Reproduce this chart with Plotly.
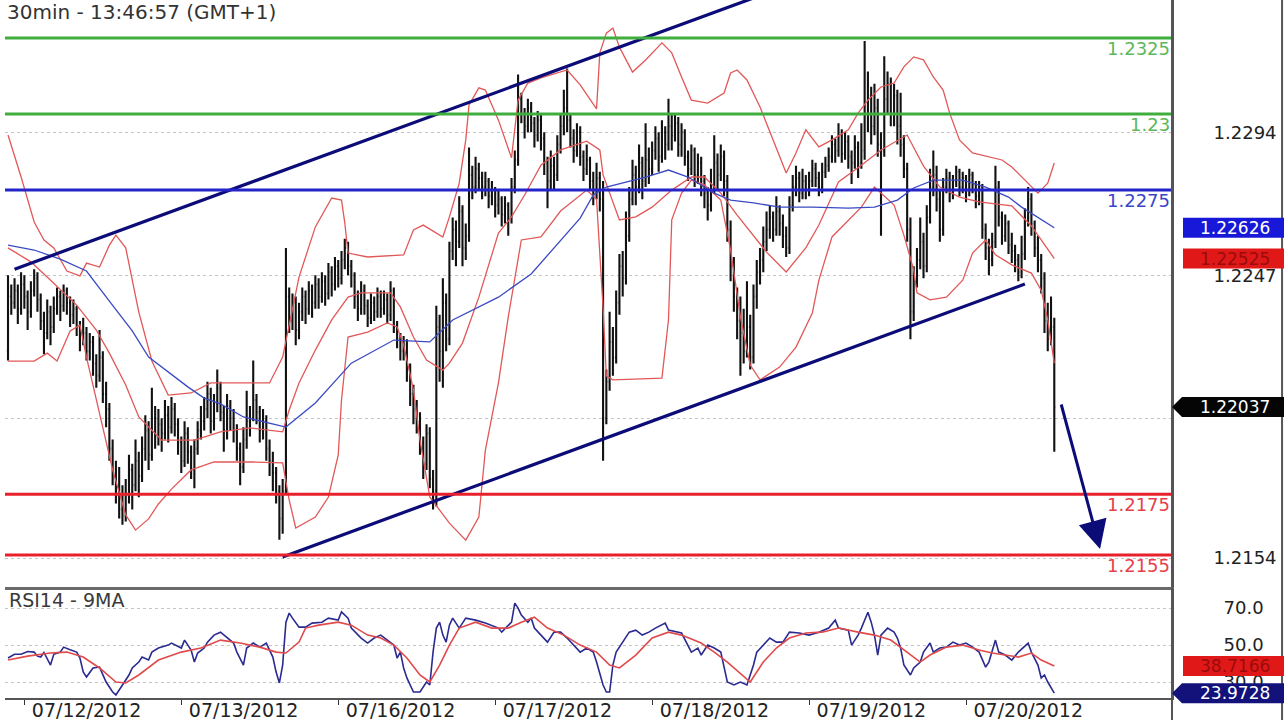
import plotly.graph_objects as go

# ---------------- data ----------------
title_text = "30min - 13:46:57 (GMT+1)"
rsi_title = "RSI14 - 9MA"
day_ticks = [5, 53, 101, 149, 197, 245, 293]
day_labels = ["07/12/2012", "07/13/2012", "07/16/2012", "07/17/2012",
              "07/18/2012", "07/19/2012", "07/20/2012"]

bar_open = [
 1.2222,1.2240,1.2238,1.2242,1.2236,1.2244,1.2240,1.2235,1.2242,1.2246,1.2239,1.2232,1.2228,1.2235,1.2230,1.2236,1.2240,1.2237,1.2242,1.2238,
 1.2234,1.2236,1.2230,1.2226,1.2228,1.2222,1.2225,1.2218,1.2214,1.2220,1.2208,1.2203,1.2190,1.2182,1.2176,1.2170,1.2168,1.2175,1.2183,1.2178,
 1.2186,1.2181,1.2190,1.2196,1.2188,1.2200,1.2194,1.2198,1.2195,1.2201,1.2197,1.2203,1.2198,1.2192,1.2186,1.2195,1.2189,1.2183,1.2190,1.2196,
 1.2199,1.2203,1.2208,1.2199,1.2205,1.2210,1.2202,1.2196,1.2204,1.2200,1.2196,1.2190,1.2184,1.2193,1.2199,1.2200,1.2206,1.2202,1.2196,1.2199,
 1.2190,1.2186,1.2182,1.2176,1.2167,1.2176,1.2240,1.2232,1.2238,1.2229,1.2235,1.2240,1.2236,1.2242,1.2238,1.2244,1.2240,1.2245,1.2241,1.2248,
 1.2244,1.2250,1.2246,1.2252,1.2256,1.2250,1.2247,1.2240,1.2236,1.2242,1.2237,1.2233,1.2238,1.2235,1.2240,1.2236,1.2239,1.2234,1.2242,1.2230,
 1.2226,1.2222,1.2224,1.2216,1.2208,1.2203,1.2199,1.2192,1.2185,1.2195,1.2180,1.2176,1.2230,1.2222,1.2238,1.2226,1.2255,1.2262,1.2258,1.2268,
 1.2256,1.2260,1.2280,1.2276,1.2282,1.2279,1.2276,1.2278,1.2273,1.2275,1.2270,1.2272,1.2267,1.2270,1.2266,1.2276,1.2285,1.2305,1.2300,1.2296,
 1.2302,1.2297,1.2293,1.2298,1.2292,1.2284,1.2278,1.2283,1.2280,1.2290,1.2296,1.2302,1.2298,1.2292,1.2288,1.2294,1.2286,1.2282,1.2285,1.2278,
 1.2274,1.2279,1.2272,1.2200,1.2212,1.2225,1.2220,1.2238,1.2250,1.2246,1.2260,1.2272,1.2280,1.2276,1.2284,1.2278,1.2285,1.2282,1.2288,1.2292,
 1.2286,1.2294,1.2290,1.2296,1.2293,1.2297,1.2290,1.2294,1.2286,1.2282,1.2288,1.2280,1.2284,1.2278,1.2274,1.2270,1.2276,1.2284,1.2280,1.2286,
 1.2278,1.2262,1.2250,1.2240,1.2232,1.2228,1.2222,1.2230,1.2220,1.2240,1.2248,1.2252,1.2258,1.2262,1.2266,1.2262,1.2268,1.2264,1.2260,1.2256,
 1.2270,1.2276,1.2279,1.2274,1.2278,1.2275,1.2278,1.2282,1.2279,1.2276,1.2281,1.2283,1.2286,1.2290,1.2288,1.2293,1.2287,1.2291,1.2286,1.2284,
 1.2289,1.2284,1.2288,1.2300,1.2306,1.2296,1.2302,1.2290,1.2288,1.2305,1.2310,1.2300,1.2306,1.2296,1.2290,1.2282,1.2262,1.2235,1.2245,1.2252,
 1.2258,1.2250,1.2266,1.2276,1.2280,1.2272,1.2262,1.2276,1.2279,1.2274,1.2278,1.2281,1.2276,1.2279,1.2275,1.2280,1.2277,1.2273,1.2276,1.2262,
 1.2256,1.2252,1.2258,1.2276,1.2266,1.2260,1.2264,1.2257,1.2255,1.2252,1.2248,1.2254,1.2266,1.2272,1.2264,1.2256,1.2252,1.2246,1.2232,1.2226,1.2230]

bar_high = [
 1.2247,1.2244,1.2246,1.2244,1.2248,1.2247,1.2242,1.2245,1.2249,1.2248,1.2241,1.2235,1.2239,1.2237,1.2240,1.2243,1.2242,1.2244,1.2243,1.2240,
 1.2239,1.2237,1.2232,1.2233,1.2230,1.2228,1.2227,1.2221,1.2229,1.2222,1.2212,1.2205,1.2193,1.2186,1.2184,1.2178,1.2180,1.2188,1.2185,1.2193,
 1.2189,1.2194,1.2201,1.2199,1.2210,1.2204,1.2203,1.2200,1.2206,1.2204,1.2207,1.2205,1.2200,1.2194,1.2199,1.2197,1.2191,1.2193,1.2199,1.2204,
 1.2207,1.2212,1.2210,1.2208,1.2216,1.2212,1.2204,1.2208,1.2206,1.2203,1.2198,1.2192,1.2197,1.2209,1.2204,1.2219,1.2208,1.2204,1.2203,1.2201,
 1.2193,1.2189,1.2184,1.2178,1.2180,1.2256,1.2243,1.2241,1.2240,1.2238,1.2243,1.2242,1.2245,1.2244,1.2247,1.2246,1.2248,1.2247,1.2251,1.2250,
 1.2253,1.2252,1.2255,1.2259,1.2258,1.2252,1.2248,1.2242,1.2245,1.2244,1.2239,1.2241,1.2240,1.2243,1.2242,1.2242,1.2241,1.2245,1.2243,1.2232,
 1.2228,1.2227,1.2226,1.2218,1.2211,1.2206,1.2202,1.2194,1.2198,1.2197,1.2183,1.2237,1.2234,1.2246,1.2241,1.2258,1.2266,1.2265,1.2273,1.2270,
 1.2264,1.2289,1.2283,1.2286,1.2284,1.2281,1.2281,1.2279,1.2278,1.2276,1.2275,1.2273,1.2273,1.2271,1.2279,1.2288,1.2313,1.2307,1.2302,1.2305,
 1.2304,1.2299,1.2301,1.2300,1.2294,1.2286,1.2288,1.2286,1.2293,1.2300,1.2308,1.2315,1.2300,1.2295,1.2297,1.2296,1.2288,1.2290,1.2286,1.2281,
 1.2284,1.2281,1.2278,1.2216,1.2235,1.2230,1.2242,1.2254,1.2255,1.2268,1.2276,1.2285,1.2283,1.2290,1.2286,1.2297,1.2289,1.2291,1.2296,1.2294,
 1.2298,1.2296,1.2305,1.2300,1.2300,1.2299,1.2297,1.2295,1.2288,1.2290,1.2289,1.2287,1.2286,1.2280,1.2276,1.2282,1.2293,1.2287,1.2290,1.2288,
 1.2280,1.2265,1.2253,1.2243,1.2240,1.2236,1.2245,1.2234,1.2244,1.2252,1.2256,1.2263,1.2268,1.2270,1.2268,1.2273,1.2270,1.2267,1.2263,1.2273,
 1.2280,1.2283,1.2281,1.2282,1.2280,1.2281,1.2285,1.2284,1.2281,1.2284,1.2286,1.2289,1.2293,1.2292,1.2297,1.2295,1.2294,1.2293,1.2288,1.2293,
 1.2291,1.2297,1.2324,1.2314,1.2309,1.2310,1.2305,1.2294,1.2319,1.2314,1.2312,1.2310,1.2308,1.2307,1.2293,1.2284,1.2266,1.2250,1.2256,1.2266,
 1.2261,1.2270,1.2282,1.2288,1.2283,1.2275,1.2279,1.2282,1.2281,1.2280,1.2283,1.2282,1.2281,1.2280,1.2282,1.2281,1.2278,1.2278,1.2277,1.2264,
 1.2259,1.2261,1.2283,1.2278,1.2268,1.2267,1.2265,1.2261,1.2257,1.2254,1.2260,1.2269,1.2276,1.2274,1.2265,1.2260,1.2254,1.2248,1.2238,1.2240,1.2233]

bar_low = [
 1.2219,1.2234,1.2236,1.2231,1.2234,1.2236,1.2229,1.2233,1.2240,1.2235,1.2229,1.2221,1.2226,1.2224,1.2228,1.2234,1.2232,1.2235,1.2234,1.2230,
 1.2231,1.2227,1.2222,1.2224,1.2219,1.2219,1.2214,1.2210,1.2212,1.2205,1.2197,1.2186,1.2178,1.2172,1.2167,1.2165,1.2166,1.2172,1.2170,1.2176,
 1.2174,1.2179,1.2186,1.2183,1.2186,1.2190,1.2191,1.2189,1.2193,1.2192,1.2195,1.2194,1.2188,1.2182,1.2184,1.2185,1.2180,1.2177,1.2188,1.2193,
 1.2196,1.2200,1.2195,1.2196,1.2202,1.2199,1.2189,1.2193,1.2196,1.2192,1.2186,1.2178,1.2182,1.2190,1.2194,1.2199,1.2198,1.2192,1.2193,1.2186,
 1.2181,1.2176,1.2172,1.2160,1.2162,1.2175,1.2228,1.2229,1.2224,1.2226,1.2232,1.2231,1.2234,1.2233,1.2236,1.2236,1.2238,1.2237,1.2239,1.2240,
 1.2242,1.2243,1.2244,1.2249,1.2247,1.2243,1.2236,1.2232,1.2234,1.2234,1.2230,1.2231,1.2232,1.2233,1.2233,1.2234,1.2231,1.2232,1.2228,1.2223,
 1.2219,1.2219,1.2212,1.2204,1.2198,1.2195,1.2188,1.2180,1.2183,1.2177,1.2170,1.2171,1.2212,1.2210,1.2222,1.2224,1.2252,1.2250,1.2256,1.2250,
 1.2252,1.2258,1.2272,1.2274,1.2275,1.2272,1.2273,1.2269,1.2270,1.2266,1.2267,1.2263,1.2264,1.2260,1.2264,1.2274,1.2283,1.2297,1.2292,1.2294,
 1.2294,1.2289,1.2291,1.2288,1.2280,1.2269,1.2275,1.2275,1.2278,1.2287,1.2293,1.2294,1.2289,1.2284,1.2286,1.2283,1.2278,1.2280,1.2275,1.2270,
 1.2272,1.2268,1.2186,1.2198,1.2209,1.2214,1.2218,1.2234,1.2240,1.2244,1.2258,1.2270,1.2270,1.2274,1.2272,1.2276,1.2277,1.2280,1.2285,1.2281,
 1.2284,1.2285,1.2288,1.2288,1.2291,1.2286,1.2286,1.2283,1.2278,1.2280,1.2276,1.2277,1.2273,1.2269,1.2265,1.2268,1.2274,1.2275,1.2278,1.2273,
 1.2258,1.2245,1.2235,1.2226,1.2214,1.2218,1.2220,1.2216,1.2218,1.2236,1.2244,1.2248,1.2255,1.2259,1.2258,1.2260,1.2260,1.2256,1.2253,1.2254,
 1.2268,1.2273,1.2271,1.2272,1.2272,1.2273,1.2276,1.2276,1.2273,1.2274,1.2279,1.2281,1.2284,1.2284,1.2286,1.2284,1.2285,1.2282,1.2277,1.2282,
 1.2279,1.2282,1.2285,1.2294,1.2290,1.2293,1.2286,1.2260,1.2286,1.2300,1.2296,1.2296,1.2290,1.2286,1.2279,1.2258,1.2226,1.2232,1.2243,1.2249,
 1.2246,1.2248,1.2264,1.2273,1.2268,1.2258,1.2260,1.2274,1.2271,1.2272,1.2276,1.2273,1.2274,1.2271,1.2273,1.2274,1.2269,1.2270,1.2259,1.2252,
 1.2247,1.2250,1.2256,1.2263,1.2257,1.2258,1.2254,1.2251,1.2248,1.2245,1.2246,1.2252,1.2263,1.2260,1.2253,1.2248,1.2241,1.2228,1.2222,1.2224,1.2189]

bar_close = [
 1.2240,1.2238,1.2242,1.2236,1.2244,1.2240,1.2235,1.2242,1.2246,1.2239,1.2232,1.2228,1.2235,1.2230,1.2236,1.2240,1.2237,1.2242,1.2238,1.2234,
 1.2236,1.2230,1.2226,1.2228,1.2222,1.2225,1.2218,1.2214,1.2220,1.2208,1.2203,1.2190,1.2182,1.2176,1.2170,1.2168,1.2175,1.2183,1.2178,1.2186,
 1.2181,1.2190,1.2196,1.2188,1.2200,1.2194,1.2198,1.2195,1.2201,1.2197,1.2203,1.2198,1.2192,1.2186,1.2195,1.2189,1.2183,1.2190,1.2196,1.2199,
 1.2203,1.2208,1.2199,1.2205,1.2210,1.2202,1.2196,1.2204,1.2200,1.2196,1.2190,1.2184,1.2193,1.2199,1.2200,1.2206,1.2202,1.2196,1.2199,1.2190,
 1.2186,1.2182,1.2176,1.2167,1.2176,1.2240,1.2232,1.2238,1.2229,1.2235,1.2240,1.2236,1.2242,1.2238,1.2244,1.2240,1.2245,1.2241,1.2248,1.2244,
 1.2250,1.2246,1.2252,1.2256,1.2250,1.2247,1.2240,1.2236,1.2242,1.2237,1.2233,1.2238,1.2235,1.2240,1.2236,1.2239,1.2234,1.2242,1.2230,1.2226,
 1.2222,1.2224,1.2216,1.2208,1.2203,1.2199,1.2192,1.2185,1.2195,1.2180,1.2176,1.2230,1.2222,1.2238,1.2226,1.2255,1.2262,1.2258,1.2268,1.2256,
 1.2260,1.2280,1.2276,1.2282,1.2279,1.2276,1.2278,1.2273,1.2275,1.2270,1.2272,1.2267,1.2270,1.2266,1.2276,1.2285,1.2305,1.2300,1.2296,1.2302,
 1.2297,1.2293,1.2298,1.2292,1.2284,1.2278,1.2283,1.2280,1.2290,1.2296,1.2302,1.2298,1.2292,1.2288,1.2294,1.2286,1.2282,1.2285,1.2278,1.2274,
 1.2279,1.2272,1.2200,1.2212,1.2225,1.2220,1.2238,1.2250,1.2246,1.2260,1.2272,1.2280,1.2276,1.2284,1.2278,1.2285,1.2282,1.2288,1.2292,1.2286,
 1.2294,1.2290,1.2296,1.2293,1.2297,1.2290,1.2294,1.2286,1.2282,1.2288,1.2280,1.2284,1.2278,1.2274,1.2270,1.2276,1.2284,1.2280,1.2286,1.2278,
 1.2262,1.2250,1.2240,1.2232,1.2228,1.2222,1.2230,1.2220,1.2240,1.2248,1.2252,1.2258,1.2262,1.2266,1.2262,1.2268,1.2264,1.2260,1.2256,1.2270,
 1.2276,1.2279,1.2274,1.2278,1.2275,1.2278,1.2282,1.2279,1.2276,1.2281,1.2283,1.2286,1.2290,1.2288,1.2293,1.2287,1.2291,1.2286,1.2284,1.2289,
 1.2284,1.2288,1.2300,1.2306,1.2296,1.2302,1.2290,1.2288,1.2305,1.2310,1.2300,1.2306,1.2296,1.2290,1.2282,1.2262,1.2235,1.2245,1.2252,1.2258,
 1.2250,1.2266,1.2276,1.2280,1.2272,1.2262,1.2276,1.2279,1.2274,1.2278,1.2281,1.2276,1.2279,1.2275,1.2280,1.2277,1.2273,1.2276,1.2262,1.2256,
 1.2252,1.2258,1.2276,1.2266,1.2260,1.2264,1.2257,1.2255,1.2252,1.2248,1.2254,1.2266,1.2272,1.2264,1.2256,1.2252,1.2246,1.2232,1.2226,1.2230,1.22037]

bar_index = list(range(len(bar_close)))

# Bollinger bands (20,2) at sample bars
bb_upper_bar = [0,4,8,11,14,18,22,24,28,31,33,36,40,44,49,56,62,80,84,89,94,99,102,103,104,110,121,124,127,133,
                135,138,140,141,144,146,150,153,154,156,159,163,171,175,180,181,183,185,187,191,195,200,203,206,209,214,219,221,223,226,
                230,234,238,241,244,248,252,257,260,263,267,271,274,277,280,283,286,288,291,295,300,304,307,312,315,318,320]
bb_upper = [1.22931,1.22793,1.22645,1.22586,1.22560,1.22484,1.22468,1.22510,1.22497,1.22569,1.22602,1.22560,1.22349,1.22188,1.22076,1.22083,1.22116,1.22116,1.22201,1.22464,
            1.22629,1.22724,1.22717,1.22642,1.22543,1.22530,1.22537,1.22619,1.22635,1.22596,1.22662,1.22773,1.22915,1.23030,1.23086,1.23079,1.22980,1.22882,1.22856,1.23046,
            1.23102,1.23119,1.23145,1.23096,1.23017,1.23201,1.23266,1.23283,1.23220,1.23138,1.23178,1.23234,1.23201,1.23122,1.23046,1.23036,1.23069,1.23135,1.23145,1.23112,
            1.23023,1.22915,1.22806,1.22872,1.22948,1.22892,1.22915,1.22948,1.23003,1.23046,1.23089,1.23102,1.23155,1.23188,1.23178,1.23122,1.23079,1.23003,1.22915,1.22872,
            1.22859,1.22849,1.22826,1.22773,1.22740,1.22773,1.22839]
bb_mid_bar = [0,7,14,21,27,31,36,40,47,57,65,74,84,86,89,94,99,104,108,117,120,124,128,133,135,139,144,150,154,158,
              163,169,177,181,182,187,192,197,203,209,213,218,223,228,232,238,244,248,254,261,267,275,280,285,291,297,307,313,320]
bb_mid = [1.22560,1.22514,1.22444,1.22372,1.22290,1.22214,1.22109,1.22004,1.21928,1.21928,1.21955,1.21968,1.21955,1.22027,1.22116,1.22224,1.22323,1.22398,1.22412,1.22412,
          1.22366,1.22267,1.22191,1.22158,1.22181,1.22247,1.22398,1.22609,1.22662,1.22734,1.22832,1.22882,1.22911,1.22882,1.22800,1.22652,1.22662,1.22694,1.22750,1.22793,
          1.22793,1.22740,1.22668,1.22599,1.22546,1.22481,1.22560,1.22635,1.22777,1.22832,1.22882,1.22931,1.22829,1.22760,1.22727,1.22711,1.22698,1.22632,1.22525]
bb_lower_bar = [0,8,12,15,19,22,24,28,32,36,39,43,46,50,56,63,75,84,86,88,94,98,101,102,104,110,116,119,121,124,
                126,129,135,140,144,146,150,153,157,163,169,177,180,182,183,185,200,202,203,206,209,213,218,221,224,227,230,236,241,246,
                248,252,257,261,265,271,274,277,278,282,287,292,295,299,302,307,313,316,318,320]
bb_lower = [1.22188,1.22188,1.22214,1.22188,1.22287,1.22306,1.22201,1.22017,1.21830,1.21682,1.21632,1.21669,1.21718,1.21767,1.21830,1.21856,1.21856,1.21853,1.21731,1.21639,
            1.21675,1.21741,1.21879,1.22060,1.22267,1.22283,1.22313,1.22300,1.22241,1.22093,1.21928,1.21741,1.21655,1.21599,1.21675,1.21895,1.22116,1.22333,1.22586,1.22596,
            1.22681,1.22750,1.22720,1.22362,1.22139,1.22126,1.22132,1.22323,1.22652,1.22740,1.22783,1.22767,1.22717,1.22553,1.22333,1.22175,1.22126,1.22168,1.22234,1.22346,
            1.22454,1.22596,1.22652,1.22694,1.22760,1.22701,1.22602,1.22487,1.22412,1.22389,1.22398,1.22454,1.22543,1.22586,1.22537,1.22504,1.22477,1.22421,1.22323,1.22181]
ma50_bar = [0,8,16,24,31,38,43,49,55,60,65,72,82,85,94,105,118,129,136,150,160,169,175,179,183,195,202,208,216,221,
            228,236,246,257,265,272,277,283,292,299,306,310,316,320]
ma50 = [1.22569,1.22553,1.22523,1.22484,1.22385,1.22287,1.22201,1.22152,1.22103,1.22066,1.22047,1.22004,1.21978,1.21971,1.22050,1.22181,1.22257,1.22251,1.22323,1.22398,
        1.22474,1.22583,1.22658,1.22734,1.22760,1.22793,1.22816,1.22793,1.22740,1.22717,1.22708,1.22694,1.22694,1.22691,1.22694,1.22717,1.22757,1.22783,1.22783,1.22760,
        1.22727,1.22694,1.22652,1.22626]

# RSI(14) and its 9-period MA
rsi_bar = [0,2,4,6,8,9,10,11,13,14,16,17,19,21,22,23,24,26,28,30,32,33,35,37,38,40,41,43,44,46,
           49,50,53,54,56,57,58,60,61,63,65,67,69,70,72,73,75,77,79,81,82,83,84,85,86,87,89,91,93,96,
           98,101,102,104,105,108,110,112,114,116,118,119,120,121,122,124,126,128,129,130,131,132,133,134,135,136,138,140,143,146,
           150,151,154,155,156,157,159,160,161,163,165,167,169,171,173,175,177,179,180,182,183,184,185,186,188,190,192,194,196,198,
           201,202,206,208,209,211,212,214,216,218,219,220,222,224,226,228,229,231,233,235,237,239,242,245,248,251,253,254,257,258,
           260,261,263,264,265,266,267,269,271,272,273,274,276,277,279,280,282,283,285,287,289,291,293,295,297,299,300,302,303,305,
           307,309,312,313,315,316,317,318,319,320]
rsi = [43.0,45.0,45.0,46.5,46.2,44.0,43.5,46.0,39.2,45.0,46.2,48.9,47.5,46.2,43.0,35.4,32.7,37.6,38.1,30.0,
       24.6,23.0,28.4,33.8,37.6,40.8,43.5,41.9,46.2,48.4,50.0,51.1,48.4,52.7,47.3,40.8,45.7,48.4,51.6,55.4,
       57.0,53.8,51.1,46.2,39.2,48.4,51.1,48.9,51.1,43.5,35.4,29.5,39.2,62.4,67.3,64.6,59.7,59.7,61.9,62.4,
       64.6,63.5,68.0,64.6,59.2,53.8,51.1,53.8,55.4,52.7,50.0,43.0,46.2,37.6,32.2,24.6,24.6,30.0,28.4,46.2,
       59.2,62.4,55.4,51.6,60.8,64.6,59.2,64.6,63.5,61.9,59.2,57.0,62.4,72.7,70.0,66.2,62.4,64.6,59.2,55.4,
       51.6,57.0,57.0,53.8,50.0,46.2,48.4,46.2,40.8,28.4,24.6,24.6,39.2,46.2,51.6,57.0,58.1,55.4,57.0,59.2,
       61.9,58.1,56.5,50.0,46.2,48.4,44.6,50.0,48.4,46.2,37.6,30.0,28.4,30.0,28.4,39.2,46.2,50.0,53.8,51.6,
       51.6,57.0,56.5,55.4,57.0,59.2,63.5,59.2,58.1,50.0,55.4,59.2,67.8,62.4,55.4,44.6,55.4,59.2,57.0,53.8,
       48.4,39.2,33.8,37.6,40.8,46.2,51.1,46.2,48.4,48.9,51.6,50.0,51.1,48.9,46.2,38.1,40.8,52.7,46.2,44.6,
       41.9,46.2,51.1,46.2,39.2,32.2,33.8,30.0,27.0,23.9728]
rsi_ma_bar = [0,6,13,18,23,28,33,36,40,46,53,59,65,71,77,82,85,89,91,95,101,105,110,114,118,122,126,129,132,135,
              138,143,148,153,157,161,165,170,175,180,184,187,192,197,202,206,212,216,220,224,227,231,235,239,244,249,254,260,265,270,
              275,279,282,287,292,297,301,305,309,313,316,320]
rsi_ma = [41.9,44.0,45.7,46.2,43.5,37.6,30.0,29.5,33.8,41.9,46.2,48.4,52.7,51.1,48.9,46.2,45.7,51.6,59.2,60.8,
          62.4,60.8,55.4,53.8,50.0,43.0,33.8,30.0,39.2,50.0,59.2,62.4,59.2,59.2,62.4,65.1,59.2,55.4,50.0,46.2,
          39.2,37.6,44.6,53.8,57.0,55.4,51.1,46.2,40.8,34.9,30.0,40.8,48.4,53.8,56.5,57.0,59.2,57.0,55.4,52.7,
          46.2,40.8,44.6,48.9,50.0,47.3,45.7,44.6,43.5,45.7,41.9,38.7166]

# drawn levels / trendlines / projection arrow
level_values = [1.2325, 1.2300, 1.2275, 1.2175, 1.2155]
level_labels = ["1.2325", "1.23", "1.2275", "1.2175", "1.2155"]
channel_upper_bar = [2, 240]
channel_upper = [1.22490, 1.23429]
channel_lower_bar = [84, 311]
channel_lower = [1.21544, 1.22441]
arrow_from = (322, 1.2205)
arrow_to = (334, 1.2157)

price_ticks = [1.2154, 1.2200, 1.2247, 1.2294]
price_tick_text = ["1.2154", "", "1.2247", "1.2294"]
rsi_ticks = [30, 50, 70]
rsi_tick_text = ["30.0", "50.0", "70.0"]

ma50_last = 1.22626
bb_mid_last = 1.22525
last_price = 1.22037
rsi_ma_last = 38.7166
rsi_last = 23.9728

# ---------------- styling ----------------
FONT = "DejaVu Sans"
X_RANGE = [-0.92, 356]
Y_RANGE = [1.21445, 1.23375]
Y_DOM = [0.159, 1.0]
R_RANGE = [21.35, 80.3]
R_DOM = [0.0, 0.156]
GREEN, BLUE, RED, NAVY = "#3fae3f", "#2424c8", "#e8202c", "#0c0c78"
LEVEL_COLORS = [GREEN, GREEN, BLUE, RED, RED]
LABEL_COLORS = ["#5cb85c", "#5cb85c", "#3a46c8", "#e8404a", "#e8404a"]
BAND = "#e25858"

fig = go.Figure()

fig.add_trace(go.Ohlc(
    x=bar_index, open=bar_open, high=bar_high, low=bar_low, close=bar_close,
    increasing=dict(line=dict(color="#111111", width=2.1)),
    decreasing=dict(line=dict(color="#111111", width=2.1)),
    tickwidth=0.35, hoverinfo="skip", showlegend=False, xaxis="x", yaxis="y"))

for xs, ys, col in [(bb_upper_bar, bb_upper, BAND), (bb_mid_bar, bb_mid, BAND),
                    (bb_lower_bar, bb_lower, BAND), (ma50_bar, ma50, "#3a4ac4")]:
    fig.add_trace(go.Scatter(x=xs, y=ys, mode="lines", line=dict(color=col, width=1.3),
                             hoverinfo="skip", showlegend=False, xaxis="x", yaxis="y"))

for xs, ys in [(channel_upper_bar, channel_upper), (channel_lower_bar, channel_lower)]:
    fig.add_trace(go.Scatter(x=xs, y=ys, mode="lines", line=dict(color=NAVY, width=3.2),
                             hoverinfo="skip", showlegend=False, xaxis="x", yaxis="y"))

fig.add_trace(go.Scatter(x=rsi_bar, y=rsi, mode="lines", line=dict(color="#2a2a90", width=1.6),
                         hoverinfo="skip", showlegend=False, xaxis="x2", yaxis="y2"))
fig.add_trace(go.Scatter(x=rsi_ma_bar, y=rsi_ma, mode="lines", line=dict(color="#e04a4a", width=1.6),
                         hoverinfo="skip", showlegend=False, xaxis="x2", yaxis="y2"))

shapes = []
for v, c in zip(level_values, LEVEL_COLORS):
    shapes.append(dict(type="line", xref="x domain", yref="y", x0=0, x1=1, y0=v, y1=v,
                       line=dict(color=c, width=3), layer="above"))

# frame lines outside the plot areas
shapes.append(dict(type="line", xref="paper", yref="paper", x0=1, x1=1, y0=-0.04, y1=1.0,
                   line=dict(color="#555555", width=2)))
shapes.append(dict(type="line", xref="paper", yref="paper", x0=1.0943, x1=1.0943, y0=-0.04, y1=1.0,
                   line=dict(color="#555555", width=2)))


def paper_y(v, rng, dom):
    return dom[0] + (v - rng[0]) / (rng[1] - rng[0]) * (dom[1] - dom[0])


annotations = []
markers = [
    (ma50_last, Y_RANGE, Y_DOM, "#1818d8", "white", f"{ma50_last:.5f}", False),
    (bb_mid_last, Y_RANGE, Y_DOM, "#e01818", "#9a0c0c", f"{bb_mid_last:.5f}", False),
    (last_price, Y_RANGE, Y_DOM, "#050505", "white", f"{last_price:.5f}", True),
    (rsi_ma_last, R_RANGE, R_DOM, "#e01818", "#9a0c0c", f"{rsi_ma_last:.4f}", False),
    (rsi_last, R_RANGE, R_DOM, "#12127a", "white", f"{rsi_last:.4f}", True),
]
for v, rng, dom, bg, fg, txt, pointed in markers:
    py = paper_y(v, rng, dom)
    path = "M 0 0 L 10 10 L 112 10 L 112 -10 L 10 -10 Z" if pointed else \
           "M 11 10 L 112 10 L 112 -10 L 11 -10 Z"
    shapes.append(dict(type="path", xref="paper", yref="paper", xsizemode="pixel", ysizemode="pixel",
                       xanchor=1, yanchor=py, path=path, fillcolor=bg, line=dict(width=0), layer="above"))
    annotations.append(dict(xref="paper", yref="paper", x=1, y=py, xanchor="center", yanchor="middle",
                            xshift=63, text=txt, showarrow=False,
                            font=dict(family=FONT, size=17, color=fg)))

for v, t, c in zip(level_values, level_labels, LABEL_COLORS):
    annotations.append(dict(xref="x domain", yref="y", x=1, y=v, xanchor="right", yanchor="top",
                            yshift=2, text=t, showarrow=False,
                            font=dict(family=FONT, size=18, color=c)))

annotations.append(dict(xref="x", yref="y", axref="x", ayref="y", x=arrow_to[0], y=arrow_to[1],
                        ax=arrow_from[0], ay=arrow_from[1], showarrow=True, arrowhead=2,
                        arrowsize=1.9, arrowwidth=3, arrowcolor=NAVY, text=""))

annotations.append(dict(xref="paper", yref="paper", x=0, y=0.983, xanchor="left", yanchor="middle",
                        text=title_text, showarrow=False, font=dict(family=FONT, size=20, color="#333333")))
annotations.append(dict(xref="paper", yref="paper", x=0.002, y=0.140, xanchor="left", yanchor="middle",
                        text=rsi_title, showarrow=False, font=dict(family=FONT, size=19, color="#3a3a3a")))

fig.update_layout(
    width=1284, height=720,
    margin=dict(l=5, r=112, t=0, b=22, autoexpand=False),
    paper_bgcolor="white", plot_bgcolor="white",
    hovermode=False, showlegend=False,
    font=dict(family=FONT, color="#222222"),
    xaxis=dict(domain=[0, 1], range=X_RANGE, anchor="y", showticklabels=False, ticks="",
               showgrid=False, zeroline=False, showline=True, linecolor="#6a6a6a", linewidth=3,
               rangeslider=dict(visible=False), automargin=False),
    yaxis=dict(domain=Y_DOM, range=Y_RANGE, anchor="x", side="right", automargin=False,
               tickvals=price_ticks, ticktext=price_tick_text, ticks="outside", ticklen=36,
               tickcolor="rgba(0,0,0,0)", tickfont=dict(family=FONT, size=18, color="#222222"),
               showgrid=True, gridcolor="#c4c4c4", griddash="dot", gridwidth=1,
               zeroline=False, showline=True, linecolor="#555555", linewidth=2),
    xaxis2=dict(domain=[0, 1], range=X_RANGE, anchor="y2", tickvals=day_ticks, ticktext=day_labels,
                ticks="outside", ticklen=5, tickcolor="#333333", ticklabelposition="outside right",
                ticklabelstandoff=-6, ticklabelshift=6,
                tickfont=dict(family=FONT, size=19, color="#222222"), automargin=False,
                showgrid=False, zeroline=False, showline=True, linecolor="#555555", linewidth=2),
    yaxis2=dict(domain=R_DOM, range=R_RANGE, anchor="x2", side="right", automargin=False,
                tickvals=rsi_ticks, ticktext=rsi_tick_text, ticks="outside", ticklen=46,
                tickcolor="rgba(0,0,0,0)", tickfont=dict(family=FONT, size=18, color="#222222"),
                showgrid=True, gridcolor="#c4c4c4", griddash="dot", gridwidth=1,
                zeroline=False, showline=True, linecolor="#555555", linewidth=2),
    shapes=shapes, annotations=annotations,
)

fig.write_html("out.html", config={"displayModeBar": False},
               post_script="document.body.style.margin='0px';document.body.style.overflow='hidden';")
